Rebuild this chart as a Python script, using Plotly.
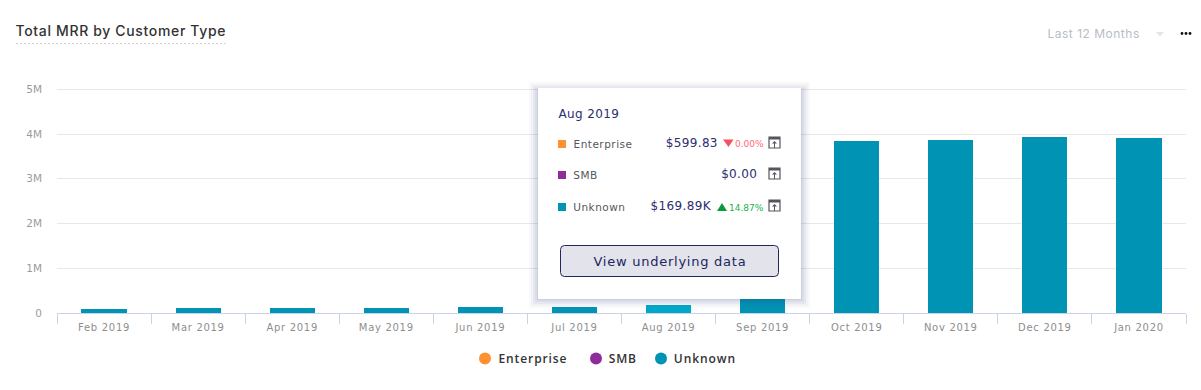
import json
import plotly.graph_objects as go

months = ["Feb 2019", "Mar 2019", "Apr 2019", "May 2019", "Jun 2019", "Jul 2019",
          "Aug 2019", "Sep 2019", "Oct 2019", "Nov 2019", "Dec 2019", "Jan 2020"]
enterprise = [600, 600, 600, 600, 600, 600, 599.83, 600, 600, 600, 600, 600]
smb = [0, 0, 0, 0, 0, 0, 0, 0, 0, 0, 0, 0]
unknown = [90000, 115000, 115000, 115000, 135000, 135000, 169890, 400000,
           3840000, 3865000, 3935000, 3915000]
y_ticks = [0, 1000000, 2000000, 3000000, 4000000, 5000000]
y_labels = ["0", "1M", "2M", "3M", "4M", "5M"]
highlight = "Aug 2019"

series_names = ["Enterprise", "SMB", "Unknown"]
series_colors = ["#ff9130", "#8e2c9b", "#0093b4"]
tip_values = ["$599.83", "$0.00", "$169.89K"]
tip_changes = ["0.00%", "", "14.87%"]

W, H = 1201, 390
L, R, T, B = 57, 1186, 88, 313
Y_MAX = 5000000 * (B - T) / 223.7
FONT = "DejaVu Sans"
NAVY = "#2b2d6e"


def px(x):
    return (x - L) / (R - L)


def py(y):
    return (B - y) / (B - T)


fig = go.Figure()
for name, vals, col in zip(series_names, [enterprise, smb, unknown], series_colors):
    colors = ["#00a9c9" if (m == highlight and name == "Unknown") else col for m in months]
    fig.add_bar(x=months, y=vals, name=name, marker=dict(color=colors, line_width=0),
                showlegend=False)

shapes = []
annotations = []
spacings = []


def rect(x0, y0, x1, y1, **kw):
    shapes.append(dict(type="rect", xref="paper", yref="paper", x0=px(x0), x1=px(x1),
                       y0=py(y0), y1=py(y1), layer="above", **kw))


def poly(points, **kw):
    path = "M " + " L ".join(f"{px(a):.5f},{py(b):.5f}" for a, b in points) + " Z"
    shapes.append(dict(type="path", xref="paper", yref="paper", path=path, layer="above", **kw))


def text(x, y, s, size, color, anchor="left", family=FONT, weight=None, spacing=0):
    f = dict(family=family, size=size, color=color)
    if weight:
        f["weight"] = weight
    extra = len(s) * spacing
    x = x + extra / 2 if anchor == "left" else x - extra / 2 if anchor == "right" else x
    spacings.append(spacing)
    annotations.append(dict(xref="paper", yref="paper", x=px(x), y=py(y), text=s, showarrow=False,
                            xanchor=anchor, yanchor="middle", font=f, borderpad=0, borderwidth=0))


# header
text(16, 31, "Total MRR by Customer Type", 14, "#333333", family="Inter", weight=500, spacing=0.65)
shapes.append(dict(type="line", xref="paper", yref="paper", x0=px(16), x1=px(227), y0=py(43.5),
                   y1=py(43.5), line=dict(color="#d2d2d2", width=1, dash="2px,2px")))
text(1047, 33.5, "Last 12 Months", 12, "#b7bdc7", family="Inter", spacing=0.5)
poly([(1156, 32), (1164, 32), (1160, 36.5)], fillcolor="#e3e5ea", line_width=0)
for cx in (1182, 1186, 1190):
    shapes.append(dict(type="circle", xref="paper", yref="paper", x0=px(cx - 1.4), x1=px(cx + 1.4),
                       y0=py(34.9), y1=py(32.1), fillcolor="#111111", line_width=0))

# tooltip shadow and body
for grow, op in [(10, 0.03), (8, 0.04), (6, 0.05), (4, 0.07), (2, 0.09)]:
    rect(538 - grow + 1, 88 - grow + 4, 801 + grow - 1, 299 + grow - 1,
         fillcolor=f"rgba(60,65,120,{op})", line_width=0)
rect(538, 88, 801, 299, fillcolor="#ffffff", line_width=0)

text(558, 114, highlight, 12, NAVY, spacing=0.4)
row_y = [144, 175, 207]
val_right = [718, 757, 712]
for i, name in enumerate(series_names):
    y = row_y[i]
    rect(558, y - 4, 566, y + 4, fillcolor=series_colors[i], line_width=0)
    text(573, y, name, 10.5, "#55575f", spacing=0.5)
    text(val_right[i], y - 1, tip_values[i], 12, NAVY, anchor="right", spacing=0.35)
    ix = 769
    iy = y - 7
    rect(ix, iy, ix + 11, iy + 11, fillcolor="rgba(0,0,0,0)", line=dict(color="#55575f", width=1.2))
    rect(ix, iy, ix + 11, iy + 2.5, fillcolor="#55575f", line_width=0)
    poly([(ix + 3, iy + 6.5), (ix + 8, iy + 6.5), (ix + 5.5, iy + 4)], fillcolor="#55575f", line_width=0)
    rect(ix + 5, iy + 6, ix + 6, iy + 11, fillcolor="#55575f", line_width=0)

poly([(723, 139.5), (733.5, 139.5), (728.5, 147)], fillcolor="#f4505f", line_width=0)
text(764, 144, tip_changes[0], 9, "#ff6b78", anchor="right")
poly([(717, 211), (727, 211), (722, 203)], fillcolor="#0a9a3c", line_width=0)
text(764, 208, tip_changes[2], 9, "#22b14c", anchor="right")

# button
x0, y0, x1, y1, r = 560.5, 245.5, 778.5, 276.5, 4
path = (f"M {px(x0 + r)},{py(y0)} L {px(x1 - r)},{py(y0)} Q {px(x1)},{py(y0)} {px(x1)},{py(y0 + r)} "
        f"L {px(x1)},{py(y1 - r)} Q {px(x1)},{py(y1)} {px(x1 - r)},{py(y1)} "
        f"L {px(x0 + r)},{py(y1)} Q {px(x0)},{py(y1)} {px(x0)},{py(y1 - r)} "
        f"L {px(x0)},{py(y0 + r)} Q {px(x0)},{py(y0)} {px(x0 + r)},{py(y0)} Z")
shapes.append(dict(type="path", xref="paper", yref="paper", path=path, layer="above",
                   fillcolor="#e2e3eb", line=dict(color="#23255e", width=1)))
text(669.5, 261, "View underlying data", 13, "#23255e", anchor="center", spacing=0.75)

# legend
legend_x = [485, 596, 661]
for lx, name, col in zip(legend_x, series_names, series_colors):
    shapes.append(dict(type="circle", xref="paper", yref="paper", x0=px(lx - 6), x1=px(lx + 6),
                       y0=py(364.5), y1=py(352.5), fillcolor=col, line_width=0))
    text(lx + 13, 358.5, name, 12, "#333333", family="Open Sans", weight=600, spacing=0.9)

fig.update_layout(
    width=W, height=H,
    margin=dict(l=L, r=W - R, t=T, b=H - B, pad=0),
    barmode="stack", bargap=0.52,
    paper_bgcolor="#ffffff", plot_bgcolor="#ffffff",
    font=dict(family=FONT, size=10, color="#8e8e8e"),
    hovermode=False, showlegend=False,
    shapes=shapes, annotations=annotations,
    xaxis=dict(type="category", categoryorder="array", categoryarray=months, tickson="boundaries",
               ticks="outside", ticklen=10, tickcolor="#c8d3ea", tickwidth=1, showline=True,
               linecolor="#c8d3ea", linewidth=1, showgrid=False, zeroline=False,
               ticklabelstandoff=5,
               tickfont=dict(family=FONT, size=10, color="#8e8e8e"), tickangle=0),
    yaxis=dict(range=[0, Y_MAX], tickvals=y_ticks, ticktext=y_labels, showgrid=True,
               gridcolor="#e8e8e8", gridwidth=1, zeroline=False, showline=False,
               ticks="", ticklabelstandoff=14, tickfont=dict(family=FONT, size=10.5, color="#9b9b9b")),
)

js = ("document.body.style.margin='0';document.body.style.overflow='hidden';"
      "var sp=" + json.dumps(spacings) + ";"
      "function ls(){sp.forEach(function(s,i){if(s){var t=document.querySelector("
      "'.annotation[data-index=\"'+i+'\"] text');if(t)t.style.letterSpacing=s+'px';}});"
      "document.querySelectorAll('.xtick text').forEach(function(t){t.style.letterSpacing='0.7px';});}"
      "ls();setTimeout(ls,50);")
fig.write_html("out.html", config=dict(displayModeBar=False), post_script=js)
